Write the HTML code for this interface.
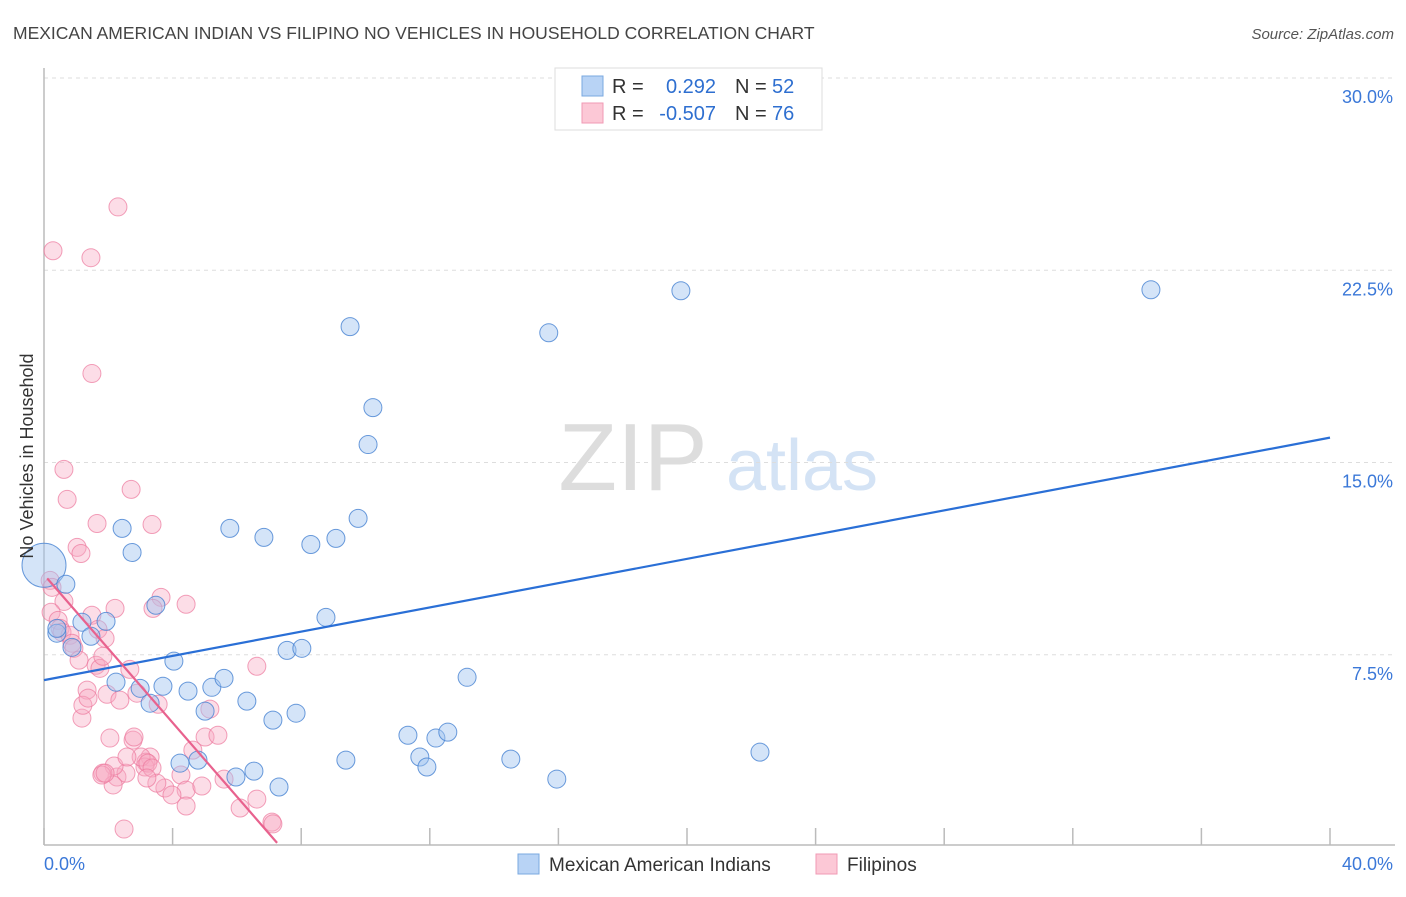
<!DOCTYPE html>
<html><head><meta charset="utf-8"><style>
body{margin:0;background:#fff;font-family:"Liberation Sans",sans-serif}
svg text{font-family:"Liberation Sans",sans-serif}
</style></head><body>
<svg id="chart" width="1406" height="892" viewBox="0 0 1406 892">
<text x="13" y="39" font-size="17.5" fill="#444">MEXICAN AMERICAN INDIAN VS FILIPINO NO VEHICLES IN HOUSEHOLD CORRELATION CHART</text>
<text x="1394" y="39" font-size="15" fill="#555" text-anchor="end" font-style="italic">Source: ZipAtlas.com</text>
<g>
<text x="633" y="490" font-size="96" fill="#ddd" font-family="Liberation Serif" text-anchor="middle">ZIP</text>
<text x="802" y="490" font-size="72" fill="#d4e3f5" text-anchor="middle">atlas</text>
</g>
<g id="grid"></g>
<g id="axes"></g>
<g id="pts"></g>
<g id="lines"></g>
<text transform="translate(33,456) rotate(-90)" font-size="18" fill="#333" text-anchor="middle">No Vehicles in Household</text>
<g>
<rect x="555" y="68" width="267" height="62" fill="#fff" stroke="#ddd"/>
<rect x="582" y="76" width="21" height="20" fill="#b8d3f5" stroke="#7aa8e0"/>
<rect x="582" y="103" width="21" height="20" fill="#fcc8d6" stroke="#f09ab4"/>
<text x="612" y="93" font-size="20" fill="#333">R =</text>
<text x="716" y="93" font-size="20" fill="#2e6fd0" text-anchor="end">0.292</text>
<text x="735" y="93" font-size="20" fill="#333">N =</text><text x="772" y="93" font-size="20" fill="#2e6fd0">52</text>
<text x="612" y="120" font-size="20" fill="#333">R =</text>
<text x="716" y="120" font-size="20" fill="#2e6fd0" text-anchor="end">-0.507</text>
<text x="735" y="120" font-size="20" fill="#333">N =</text><text x="772" y="120" font-size="20" fill="#2e6fd0">76</text>
</g>
<g>
<rect x="518" y="854" width="21" height="20" fill="#b8d3f5" stroke="#7aa8e0"/>
<text x="549" y="871" font-size="19" fill="#333">Mexican American Indians</text>
<rect x="816" y="854" width="21" height="20" fill="#fcc8d6" stroke="#f09ab4"/>
<text x="847" y="871" font-size="19" fill="#333">Filipinos</text>
</g>
</svg>
<script>
const blueX=[0,0.68,0.40,1.18,1.46,1.93,0.87,2.43,2.74,2.24,2.99,3.30,3.48,3.70,4.04,4.48,5.22,5.60,5.01,5.78,6.84,6.31,7.12,7.84,7.56,8.02,8.30,9.08,8.77,9.77,9.52,10.23,10.08,15.70,19.81,34.43,13.16,11.32,11.69,12.19,12.56,11.91,14.52,15.95,22.27,9.39,6.53,7.31,5.97,4.79,4.23,0.40];
const blueY=[10.99,10.25,8.34,8.77,8.22,8.80,7.79,12.43,11.49,6.43,6.19,5.61,9.43,6.27,7.25,6.08,6.23,6.58,5.30,12.43,12.08,5.69,4.95,5.22,7.67,7.75,11.80,12.04,8.96,12.82,20.30,17.14,15.70,20.06,21.70,21.74,6.62,4.36,3.51,4.25,4.48,3.12,3.43,2.65,3.70,3.39,2.96,2.34,2.73,3.39,3.27,8.53];
const pinkX=[0.28,2.30,1.46,1.49,0.62,0.72,2.71,1.65,3.36,1.03,1.15,0.19,0.25,0.62,0.22,0.44,0.50,0.56,0.81,0.87,0.93,1.09,1.49,2.21,1.68,1.90,1.62,1.74,1.83,2.67,3.64,4.42,3.39,1.18,1.34,1.21,1.37,1.96,2.36,2.89,3.55,5.16,6.62,2.05,2.77,2.80,2.27,2.55,2.18,1.83,2.15,1.80,3.30,3.17,3.14,3.02,3.23,3.36,4.63,5.01,5.41,4.26,4.42,3.76,3.51,3.98,3.20,5.60,4.91,6.10,6.62,4.42,7.09,7.12,2.49,1.90,2.58];
const pinkY=[23.26,24.97,22.99,18.47,14.73,13.56,13.95,12.62,12.58,11.69,11.45,10.40,10.13,9.58,9.16,8.84,8.53,8.38,8.26,7.95,7.75,7.29,9.04,9.31,8.49,8.14,7.09,6.97,7.44,6.93,9.74,9.47,9.31,5.03,6.12,5.53,5.81,5.96,5.73,6.00,5.57,5.38,7.05,4.25,4.17,4.29,2.73,2.88,3.16,2.88,2.42,2.81,3.51,3.31,3.12,3.51,3.27,3.08,3.78,4.29,4.36,2.81,2.22,2.30,2.49,2.03,2.69,2.65,2.38,1.52,1.87,1.60,0.97,0.90,0.70,2.88,3.51];
const blueTrend=[[0,6.51],[40,15.97]];
const pinkTrend=[[0.1,10.48],[7.25,0.16]];
const yTicks=[7.5,15,22.5,30];
const xTicks=[0,4,8,12,16,20,24,28,32,36,40];
const X0=44,X1=1330,Y0=847,Y1=78;
const sx=v=>X0+v/40*(X1-X0);
const sy=v=>Y0-v/30*(Y0-Y1);
const NS='http://www.w3.org/2000/svg';
function mk(tag,attrs,parent){const e=document.createElementNS(NS,tag);for(const k in attrs)e.setAttribute(k,attrs[k]);document.getElementById(parent).appendChild(e);return e;}
yTicks.forEach(t=>{
 const l=mk('line',{x1:X0,x2:1395,y1:sy(t),y2:sy(t),stroke:'#ddd','stroke-dasharray':'4,4'},'grid');
 
 
 const tx=mk('text',{x:1393,y:sy(t)+25,'font-size':18,fill:'#3b78d8','text-anchor':'end'},'grid');
 tx.textContent=t.toFixed(1)+'%';
 
 
});
const ax=mk('line',{x1:X0,x2:X0,y1:68,y2:845,stroke:'#bbb','stroke-width':1.5},'axes');


const bx=mk('line',{x1:X0,x2:1395,y1:845,y2:845,stroke:'#bbb','stroke-width':1.5},'axes');


xTicks.forEach(t=>{
 const l=mk('line',{x1:sx(t),x2:sx(t),y1:828,y2:845,stroke:'#bbb','stroke-width':1.5},'axes');
 
 
});
[[0,'start'],[40,'end']].forEach(([t,a])=>{
 const tx=mk('text',{x:t===0?44:1393,y:870,'font-size':18,fill:'#3b78d8','text-anchor':a},'axes');
 tx.textContent=t.toFixed(1)+'%';
 
 
});
pinkX.forEach((x,i)=>{
 const c=mk('circle',{cx:sx(x),cy:sy(pinkY[i]),r:9,fill:'rgba(248,170,195,0.4)',stroke:'rgba(236,120,156,0.7)','stroke-width':1},'pts');
 
 
});
blueX.forEach((x,i)=>{
 const c=mk('circle',{cx:sx(x),cy:sy(blueY[i]),r:i===0?22:9,fill:'rgba(160,196,240,0.45)',stroke:'rgba(70,130,210,0.8)','stroke-width':1},'pts');
 
 
});
const bl=mk('line',{x1:sx(blueTrend[0][0]),y1:sy(blueTrend[0][1]),x2:sx(blueTrend[1][0]),y2:sy(blueTrend[1][1]),stroke:'#2a6fd6','stroke-width':2.2},'lines');


const pl=mk('line',{x1:sx(pinkTrend[0][0]),y1:sy(pinkTrend[0][1]),x2:sx(pinkTrend[1][0]),y2:sy(pinkTrend[1][1]),stroke:'#e8628e','stroke-width':2.2},'lines');


</script>
</body></html>
